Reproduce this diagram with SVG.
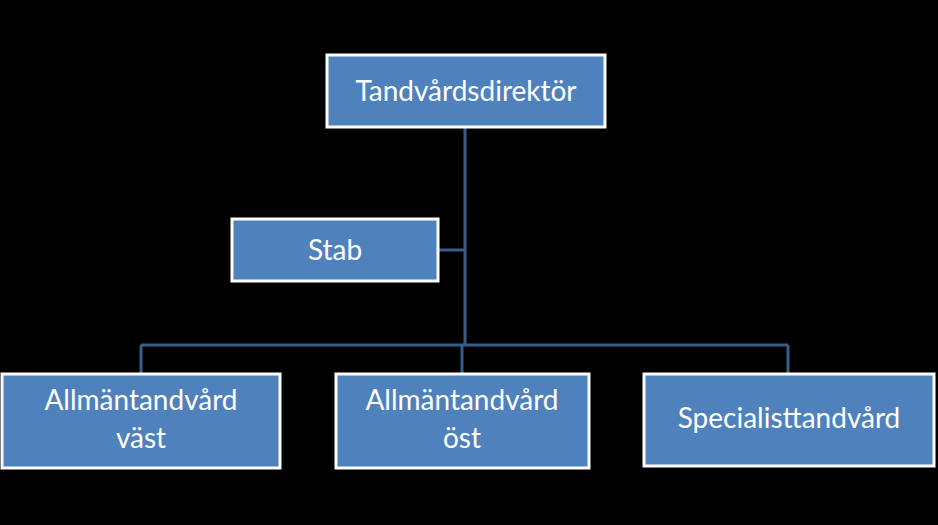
<svg xmlns="http://www.w3.org/2000/svg" width="938" height="525" viewBox="0 0 938 525">
<style>
.box{fill:#4F81BD;stroke:#FFFFFF;stroke-width:3}
.t{fill:#FFFFFF;font-family:Lato,"Liberation Sans",sans-serif;font-size:28px;text-anchor:middle}
.c{stroke:#385D8A;stroke-width:3;fill:none}
</style>
<rect width="938" height="525" fill="#000"/>
<g id="connectors">
<path class="c" d="M465 127V345M438 250H465M141 345H788M141 345V373M462 345V373M788 345V373"/>
</g>
<g id="n1"><rect class="box" x="327" y="55" width="278" height="72"/><text class="t" x="466" y="101">Tandvårdsdirektör</text></g>
<g id="n2"><rect class="box" x="232" y="219" width="206" height="62"/><text class="t" x="335" y="260">Stab</text></g>
<g id="n3"><rect class="box" x="2" y="374" width="278" height="94"/><text class="t" x="141" y="410">Allmäntandvård</text><text class="t" x="141" y="448">väst</text></g>
<g id="n4"><rect class="box" x="336" y="374" width="253" height="94"/><text class="t" x="462" y="410">Allmäntandvård</text><text class="t" x="462" y="448">öst</text></g>
<g id="n5"><rect class="box" x="644" y="374" width="290" height="92"/><text class="t" x="789" y="428">Specialisttandvård</text></g>
</svg>
